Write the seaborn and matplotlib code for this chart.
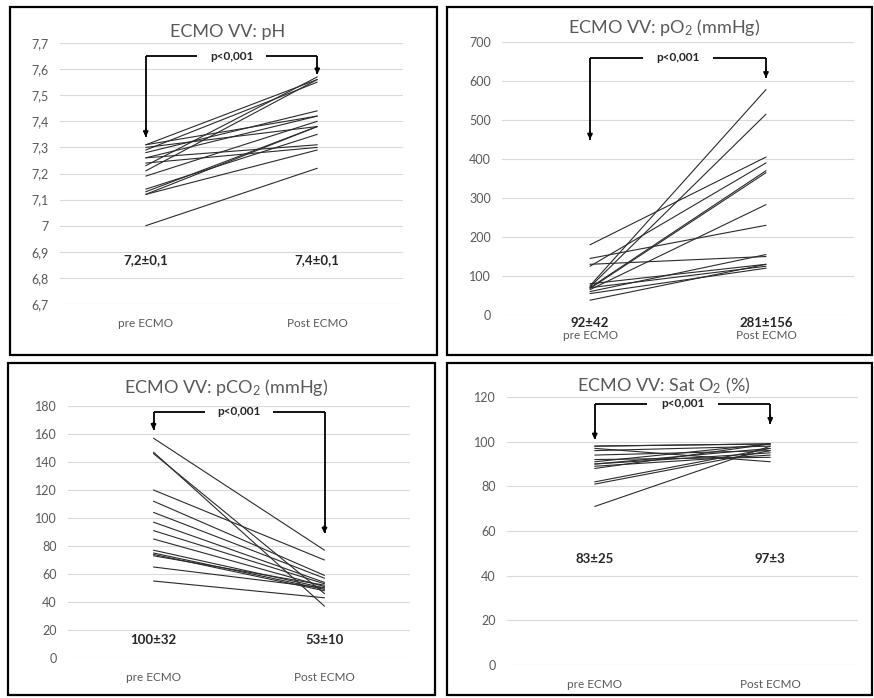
import numpy as np
import pandas as pd
import matplotlib
matplotlib.use("Agg")
import matplotlib.pyplot as plt
import seaborn as sns
from matplotlib.patches import Rectangle
from matplotlib.ticker import FuncFormatter

# data (pre / post ECMO per patient)
categories = ["pre ECMO", "Post ECMO"]

ph_pre = [7.00, 7.12, 7.12, 7.13, 7.14, 7.19, 7.21, 7.23, 7.24, 7.26, 7.26, 7.28, 7.29, 7.30, 7.31, 7.31]
ph_post = [7.22, 7.29, 7.38, 7.38, 7.35, 7.40, 7.56, 7.57, 7.30, 7.31, 7.42, 7.44, 7.55, 7.38, 7.56, 7.42]

po2_pre = [180, 145, 130, 125, 75, 72, 70, 68, 65, 80, 60, 55, 38, 70]
po2_post = [405, 230, 150, 390, 578, 515, 370, 365, 283, 130, 155, 120, 130, 125]

pco2_pre = [157, 147, 146, 120, 112, 104, 97, 91, 85, 77, 75, 74, 73, 65, 55]
pco2_post = [77, 37, 46, 70, 59, 57, 54, 53, 51, 50, 49, 48, 52, 50, 43]

sat_pre = [98, 98, 97, 96, 94, 92, 91, 90, 90, 89, 88, 82, 81, 71]
sat_post = [99, 99, 91, 98, 96, 93, 99, 95, 97, 94, 99, 97, 96, 98]

mean_labels = {
    "ph": ["7,2±0,1", "7,4±0,1"],
    "po2": ["92±42", "281±156"],
    "pco2": ["100±32", "53±10"],
    "sat": ["83±25", "97±3"],
}

sns.set_style("white")
plt.rcParams["font.family"] = ["Lato", "DejaVu Sans"]
plt.rcParams["mathtext.fontset"] = "custom"
plt.rcParams["mathtext.rm"] = "Lato"
plt.rcParams["mathtext.it"] = "Lato:italic"

W, H = 874, 698
fig = plt.figure(figsize=(W / 100, H / 100), dpi=100)
GRAY = "#595959"


def px_box(x0, y0, x1, y1):
    return [x0 / W, 1 - y1 / H, (x1 - x0) / W, (y1 - y0) / H]


def long_df(pre, post):
    n = len(pre)
    return pd.DataFrame({
        "patient": list(range(n)) * 2,
        "time": [categories[0]] * n + [categories[1]] * n,
        "value": list(pre) + list(post),
    })


def fmt(v, pos):
    v = round(v, 3)
    return f"{v:g}".replace(".", ",")


def panel(box, ax_px, pre, post, title, ylim, step, title_y, means, mean_y,
          bracket, cat_two_line=False):
    x0, y0, x1, y1 = box
    fig.add_artist(Rectangle((x0 / W, 1 - y1 / H), (x1 - x0) / W, (y1 - y0) / H,
                             transform=fig.transFigure, fill=False,
                             edgecolor="black", linewidth=1.6))
    ax = fig.add_axes(px_box(*ax_px))
    sns.lineplot(data=long_df(pre, post), x="time", y="value", units="patient",
                 estimator=None, color="#2b2b2b", linewidth=0.8, ax=ax)
    ax.set_xlim(-0.5, 1.5)
    ax.set_ylim(*ylim)
    ax.set_yticks(np.arange(ylim[0], ylim[1] + step / 2, step))
    ax.yaxis.set_major_formatter(FuncFormatter(fmt))
    ax.grid(axis="y", color="#d9d9d9", linewidth=0.8)
    ax.set_axisbelow(True)
    for s in ax.spines.values():
        s.set_visible(False)
    ax.tick_params(axis="y", length=0, labelsize=9, labelcolor=GRAY, pad=8)
    ax.tick_params(axis="x", length=0, labelsize=8.5, labelcolor=GRAY)
    ax.set_xlabel("")
    ax.set_ylabel("")
    fig.text((x0 + x1) / 2 / W + 0.005, 1 - title_y / H, title, ha="center",
             va="center", fontsize=13, color=GRAY)

    if cat_two_line:
        ax.set_xticks([0, 1])
        ax.set_xticklabels(categories)
        ax.tick_params(axis="x", pad=10.5)
        for i, m in enumerate(means):
            ax.text(i, mean_y, m, transform=ax.get_xaxis_transform(), ha="center",
                    va="top", fontsize=9.5, fontweight="bold", color="#262626")
    else:
        ax.tick_params(axis="x", pad=10)
        for i, m in enumerate(means):
            ax.text(i, mean_y, m, ha="center", va="center", fontsize=9.5,
                    fontweight="bold", color="#262626")

    top, tip_pre, tip_post = bracket
    gap = 0.2
    kw = dict(color="black", linewidth=1.3, solid_capstyle="butt")
    ax.plot([0, 0], [top, tip_pre], **kw)
    ax.plot([0, 0.5 - gap], [top, top], **kw)
    ax.plot([0.5 + gap, 1], [top, top], **kw)
    ax.plot([1, 1], [top, tip_post], **kw)
    span = ylim[1] - ylim[0]
    for xx, tip in [(0, tip_pre), (1, tip_post)]:
        ax.annotate("", xy=(xx, tip), xytext=(xx, tip + span * 0.03),
                    arrowprops=dict(arrowstyle="-|>", color="black",
                                    lw=1.3, mutation_scale=7,
                                    shrinkA=0, shrinkB=0))
    ax.text(0.5, top, "p<0,001", ha="center", va="center", fontsize=8.5,
            fontweight="bold", color="#262626")
    return ax


panel((10, 7, 437, 355), (60, 43, 403, 304), ph_pre, ph_post, "ECMO VV: pH",
      (6.7, 7.7), 0.1, 32, mean_labels["ph"], 6.87, (7.65, 7.34, 7.58))

panel((447, 7, 872, 355), (502, 42, 854, 315), po2_pre, po2_post,
      "ECMO VV: pO$_2$ (mmHg)", (0, 700), 100, 28, mean_labels["po2"], -0.006,
      (660, 450, 608), cat_two_line=True)

panel((8, 363, 435, 695), (68, 406, 410, 658), pco2_pre, pco2_post,
      "ECMO VV: pCO$_2$ (mmHg)", (0, 180), 20, 387, mean_labels["pco2"], 13,
      (176, 163, 89))

panel((447, 363, 872, 695), (507, 397, 858, 665), sat_pre, sat_post,
      "ECMO VV: Sat O$_2$ (%)", (0, 120), 20, 386, mean_labels["sat"], 47.5,
      (117, 101, 108))

fig.savefig("out.png", dpi=100)
